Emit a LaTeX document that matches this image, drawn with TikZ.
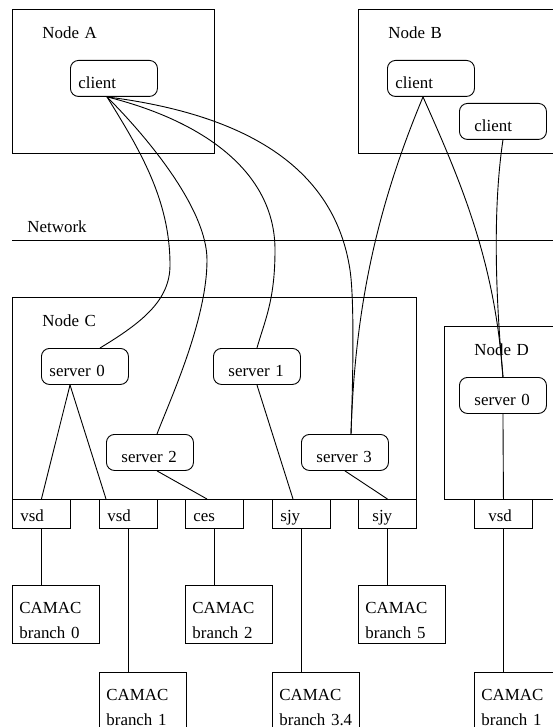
\documentclass[tikz,border=0pt]{standalone}
\usepackage{fontspec}
\setmainfont{Liberation Serif}
\usetikzlibrary{calc}

\begin{document}
\begin{tikzpicture}[
  x=1pt, y=-1pt,
  font=\fontsize{16.9}{25}\selectfont,
  line width=0.9pt,
  host/.style={draw, anchor=north west, inner xsep=30pt, inner ysep=0pt, text height=29pt, align=left},
  proc/.style={draw, rounded corners=8pt, anchor=north west, inner xsep=8pt, inner ysep=0pt, text width=71pt, text height=28pt, text depth=8pt, align=left},
  proc inset/.style={proc, inner xsep=15pt, text width=57pt},
  iface/.style={draw, anchor=north west, inner xsep=8pt, inner ysep=0pt, text width=42pt, text height=22pt, text depth=7pt, align=left},
  iface inset/.style={iface, inner xsep=14pt, text width=30pt},
  crate/.style={draw, anchor=north west, inner xsep=7pt, inner ysep=0pt, text width=73pt, text height=28pt, text depth=30pt, align=left}
]
\useasboundingbox (0,0) rectangle (553,727);
\clip (0,0) rectangle (553,727);

% Hosts and the network
\node[host, text width=142pt, text depth=115pt] (hostA) at (12,9) {Node A};
\node[host, text width=160pt, text depth=115pt] (hostB) at (358,9) {Node B};
\node[host, text width=344pt, text depth=173pt] (hostC) at (12,297) {Node C};
\node[host, text width=60pt, text depth=144pt] (hostD) at (444,326) {Node D};
\node[anchor=base west, inner sep=0pt] (lan) at (27,232) {Network};
\coordinate (lan-w) at (12,240);
\coordinate (lan-e) at (553,240);
\draw (lan-w) -- (lan-e);

% Clients
\node[proc] (clA) at (70,60) {client};
\node[proc] (clB) at (387,60) {client};
\node[proc inset] (clB2) at (459,103) {client};

% Servers
\node[proc] (srv0) at (41,348) {server 0};
\node[proc inset] (srv1) at (213,348) {server 1};
\node[proc inset] (srv2) at (106,434) {server 2};
\node[proc inset] (srv3) at (301,434) {server 3};
\node[proc inset] (srvD) at (459,377) {server 0};

% Interfaces
\node[iface] (vsd0) at (12,499) {vsd};
\node[iface] (vsd1) at (99,499) {vsd};
\node[iface] (ces) at (185,499) {ces};
\node[iface] (sjy0) at (272,499) {sjy};
\node[iface inset] (sjy1) at (358,499) {sjy};
\node[iface inset] (vsdD) at (474,499) {vsd};

% CAMAC branches
\node[crate] (cam0) at (12,585) {CAMAC\\branch 0};
\node[crate] (cam2) at (185,585) {CAMAC\\branch 2};
\node[crate] (cam5) at (358,585) {CAMAC\\branch 5};
\node[crate] (cam1) at (99,672) {CAMAC\\branch 1};
\node[crate] (cam34) at (272,672) {CAMAC\\branch 3.4};
\node[crate] (camD) at (474,672) {CAMAC\\branch 1};

% Client on node A to the servers
\draw ($(clA.south west)+(37,0)$) .. controls (140,150) and (170,200) .. (170,265)
  .. controls (170,300) and (143,322) .. ($(srv0.north west)+(59,0)$);
\draw ($(clA.south west)+(37,0)$) .. controls (150,140) and (207,210) .. (207,260)
  .. controls (207,320) and (170,400) .. ($(srv2.north west)+(51,0)$);
\draw ($(clA.south west)+(37,0)$) .. controls (200,120) and (275,170) .. (275,250)
  .. controls (275,300) and (265,320) .. (srv1.north);
\draw ($(clA.south west)+(37,0)$) .. controls (250,115) and (335,170) .. (350,270)
  .. controls (354.5,300) and (353,380) .. ($(srv3.north west)+(50,0)$);

% Clients on node B to the servers
\draw ($(clB.south west)+(36,0)$) .. controls (380,200) and (355,300) .. ($(srv3.north west)+(50,0)$);
\draw ($(clB.south west)+(36,0)$) .. controls (460,180) and (495,260) .. (srvD.north);
\draw (clB2.south) .. controls (494,200) and (494,280) .. (srvD.north);

% Servers to interfaces
\draw ($(srv0.south west)+(29,0)$) -- (vsd0.north);
\draw ($(srv0.south west)+(29,0)$) -- ($(vsd1.north west)+(7,0)$);
\draw ($(srv2.south west)+(51,0)$) -- ($(ces.north west)+(22,0)$);
\draw (srv1.south) -- ($(sjy0.north west)+(21,0)$);
\draw (srv3.south) -- (sjy1.north);
\draw (srvD.south) -- (vsdD.north);

% Interfaces to branches
\foreach \card/\branch in {vsd0/cam0, vsd1/cam1, ces/cam2, sjy0/cam34, sjy1/cam5, vsdD/camD}
  \draw (\card.south) -- (\card.south|-\branch.north);

\end{tikzpicture}
\end{document}
